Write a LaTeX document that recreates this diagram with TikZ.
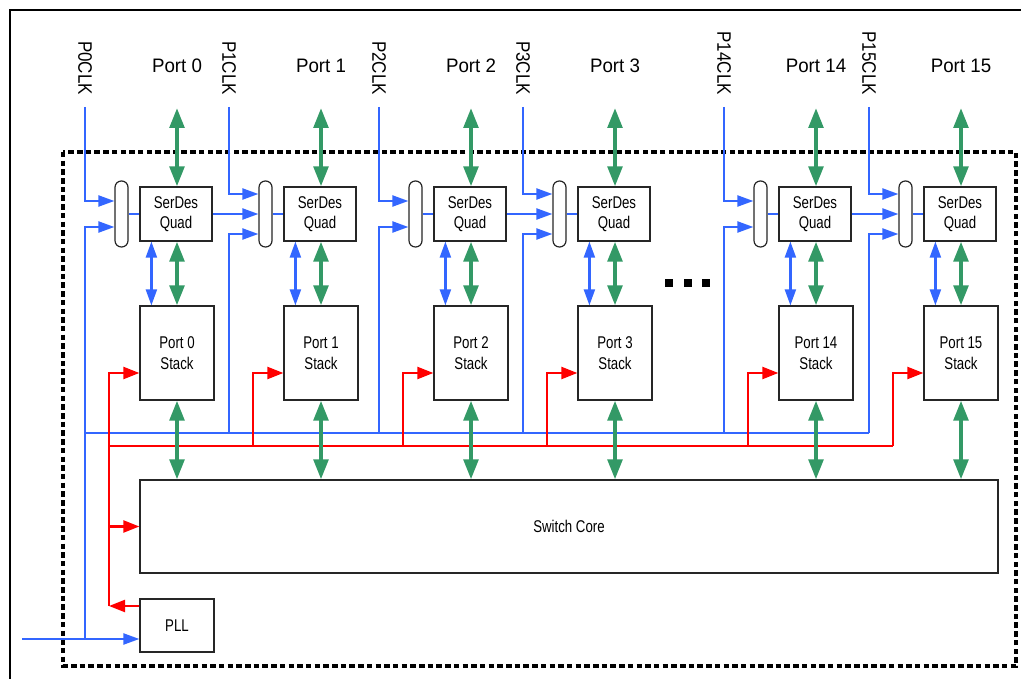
\documentclass[tikz,border=0pt]{standalone}
\usepackage{fontspec}
\setmainfont{Liberation Sans}
\newfontfamily\innerf[FakeStretch=0.78]{Liberation Sans}
\newfontfamily\portf[FakeStretch=0.96]{Liberation Sans}
\newfontfamily\clkf[FakeStretch=0.87]{Liberation Sans}
\usetikzlibrary{arrows.meta}
\definecolor{bl}{HTML}{3366FF}
\definecolor{gr}{HTML}{339966}
\definecolor{rd}{HTML}{FF0000}
\begin{document}
\begin{tikzpicture}[x=1pt,y=-1pt,
 box/.style={draw=black!85,line width=1.2pt,fill=white,inner sep=0pt,align=center,font=\innerf\fontsize{17}{21}\selectfont},
 sdbox/.style={box,minimum width=72pt,minimum height=54pt,font=\innerf\fontsize{17}{20}\selectfont},
 stbox/.style={box,minimum width=74pt,minimum height=94pt},
 pill/.style={draw=black!85,line width=1.2pt,fill=white,minimum width=13pt,minimum height=66pt,inner sep=0pt,rounded corners=6.3pt},
 portlab/.style={inner sep=0pt,font=\portf\fontsize{19.5}{22}\selectfont},
 clklab/.style={inner sep=0pt,font=\clkf\fontsize{19.5}{22}\selectfont,rotate=-90,anchor=east},
 bline/.style={draw=bl,line width=2.2pt},
 barr/.style={bline,-{Triangle[length=16pt,width=11pt]}},
 bdarr/.style={bline,{Triangle[length=16pt,width=11pt]}-{Triangle[length=16pt,width=11pt]}},
 gdarr/.style={draw=gr,line width=4pt,{Triangle[length=20pt,width=14.5pt]}-{Triangle[length=20pt,width=14.5pt]}},
 rline/.style={draw=rd,line width=2.2pt},
 rarr/.style={rline,-{Triangle[length=16pt,width=12pt]}},
 dotsq/.style={fill=black,minimum size=7.5pt,inner sep=0pt}
]
\useasboundingbox (0,0) rectangle (1021,679);
% outer frame (cropped at right and bottom)
\draw[line width=2.2pt] (10,10) rectangle (1040,700);
% dashed chip boundary
\draw[line width=4pt,dash pattern=on 5.5pt off 3.2pt] (63,152) rectangle (1016,666);

% blocks
\node[box,minimum width=858pt,minimum height=93pt] (core) at (569,526.5) {Switch Core};
\node[box,minimum width=74pt,minimum height=53pt] (pll) at (177,625.5) {PLL};
\foreach \i/\L/\n in {0/140/0,1/284/1,2/434/2,3/578/3,4/779/14,5/924/15}{
  \node[sdbox] (sd\i) at (\L+36,214) {SerDes\\Quad};
  \node[stbox] (st\i) at (\L+37,353) {Port \n\\Stack};
  \node[pill] (mx\i) at (\L-18.5,214) {};
  \node[portlab] (pl\i) at (\L+37,66) {Port \n};
  \node[clklab] (cl\i) at (\L-55,95) {P\n CLK};
  \coordinate (ck\i) at (\L-55,107);
  \coordinate (bb\i) at (\L-55,433);
  \coordinate (rb\i) at (\L-31,446);
  \coordinate (gt\i) at (\L+37,108);
}
\node[dotsq] (e1) at (669,283) {};
\node[dotsq] (e2) at (688,283) {};
\node[dotsq] (e3) at (706,283) {};

% reference clock
\coordinate (rin) at (22,639);
\draw[barr] (rin) -- (rin -| pll.west);
\draw[barr] (rin -| ck0) |- ([yshift=-13pt]mx0.west);
\draw[bline] (bb0) -- (bb5);

% clock inputs and muxes
\foreach \i/\t in {0/2,1/3,2/2,3/3,4/2,5/3}{
  \ifnum\t=2
    \draw[barr] (ck\i) |- ([yshift=13pt]mx\i.west);
    \ifnum\i>0 \draw[barr] (bb\i) |- ([yshift=-13pt]mx\i.west); \fi
  \else
    \pgfmathtruncatemacro{\j}{\i-1}
    \draw[barr] (ck\i) |- ([yshift=20pt]mx\i.west);
    \draw[barr] (sd\j.east) -- (mx\i.west);
    \draw[barr] (bb\i) |- ([yshift=-20pt]mx\i.west);
  \fi
  \draw[bline] (mx\i.east) -- (sd\i.west);
  \draw[bdarr] ([xshift=12pt]sd\i.south west) -- ([xshift=12pt]st\i.north west);
}

% red distribution from PLL
\coordinate (rp) at (109,606);
\draw[rarr] ([yshift=19.5pt]pll.west) -- (rp);
\draw[rline] (rp) -- (rb0);
\draw[rarr] (core.west -| rp) -- (core.west);
\draw[rline] (rb0) -- (rb5);
\foreach \i in {0,...,5}{
  \draw[rarr] (rb\i) |- ([yshift=-20pt]st\i.west);
}

% data paths
\foreach \i in {0,...,5}{
  \draw[gdarr] (gt\i) -- (gt\i |- sd\i.north);
  \draw[gdarr] (gt\i |- sd\i.south) -- (gt\i |- st\i.north);
  \draw[gdarr] (gt\i |- st\i.south) -- (gt\i |- core.north);
}
\end{tikzpicture}
\end{document}
